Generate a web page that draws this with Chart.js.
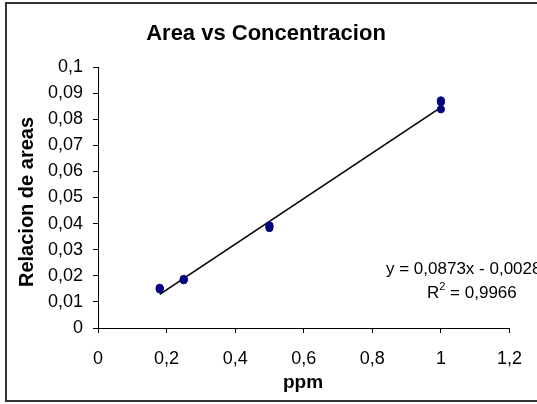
<!DOCTYPE html>
<html>
<head>
<meta charset="utf-8">
<title>Area vs Concentracion</title>
<script src="https://cdn.jsdelivr.net/npm/chart.js@4/dist/chart.umd.min.js"></script>
<style>
  html, body { margin: 0; padding: 0; background: #fff; }
  canvas { display: block; }
</style>
</head>
<body>
<canvas id="c" width="537" height="404"></canvas>
<script>
// Calibration data: concentration (ppm) vs area ratio, three replicates per level
const ppm = [0.18, 0.18, 0.18, 0.25, 0.25, 0.25, 0.5, 0.5, 0.5, 1.0, 1.0, 1.0];
const areaRatio = [0.0148, 0.0152, 0.0154, 0.0183, 0.0186, 0.0188, 0.0383, 0.0388, 0.0393, 0.0838, 0.0865, 0.0872];

// Linear fit shown on the chart
const slope = 0.0873;
const intercept = -0.0028;
const rSquared = 0.9966;
const fitRange = [0.18, 1.0];

// Axis ticks
const xTicks = [0, 0.2, 0.4, 0.6, 0.8, 1, 1.2];
const xTickLabels = ['0', '0,2', '0,4', '0,6', '0,8', '1', '1,2'];
const yTicks = [0, 0.01, 0.02, 0.03, 0.04, 0.05, 0.06, 0.07, 0.08, 0.09, 0.1];
const yTickLabels = ['0', '0,01', '0,02', '0,03', '0,04', '0,05', '0,06', '0,07', '0,08', '0,09', '0,1'];

const FONT = '"Liberation Sans", Arial, sans-serif';
const fmt = (n, d) => n.toFixed(d).replace('.', ',');

const points = ppm.map((x, i) => ({ x: x, y: areaRatio[i] }));
const fitLine = fitRange.map(x => ({ x: x, y: slope * x + intercept }));

// Frame, title, axis titles and the fit equation
const decorations = {
  id: 'decorations',
  afterDraw(chart) {
    const ctx = chart.ctx;
    ctx.save();
    ctx.strokeStyle = '#333';
    ctx.lineWidth = 2;
    ctx.strokeRect(6, 3, 540, 398);

    ctx.fillStyle = '#000';
    ctx.textAlign = 'center';
    ctx.textBaseline = 'middle';
    ctx.font = 'bold 22px ' + FONT;
    ctx.fillText('Area vs Concentracion', 266, 34);

    ctx.textBaseline = 'alphabetic';
    ctx.font = 'bold 19px ' + FONT;
    ctx.fillText('ppm', 303, 388);

    ctx.save();
    ctx.translate(33, 202);
    ctx.rotate(-Math.PI / 2);
    ctx.font = 'bold 20px ' + FONT;
    ctx.fillText('Relacion de areas', 0, 0);
    ctx.restore();

    ctx.font = '17px ' + FONT;
    ctx.textAlign = 'left';
    const sign = intercept < 0 ? ' - ' : ' + ';
    ctx.fillText('y = ' + fmt(slope, 4) + 'x' + sign + fmt(Math.abs(intercept), 4), 386, 274);
    const rx = 427, ry = 298;
    ctx.fillText('R', rx, ry);
    const rw = ctx.measureText('R').width;
    ctx.font = '11px ' + FONT;
    ctx.fillText('2', rx + rw, ry - 8);
    const sw = ctx.measureText('2').width;
    ctx.font = '17px ' + FONT;
    ctx.fillText(' = ' + fmt(rSquared, 4), rx + rw + sw, ry);
    ctx.restore();
  }
};

new Chart(document.getElementById('c'), {
  type: 'scatter',
  data: {
    datasets: [
      {
        label: 'Relacion de areas',
        data: points,
        backgroundColor: '#000080',
        borderColor: '#000080',
        pointRadius: 3.6,
        pointStyle: 'circle',
        order: 1
      },
      {
        label: 'Ajuste lineal',
        type: 'line',
        data: fitLine,
        borderColor: '#000',
        borderWidth: 1.6,
        pointRadius: 0,
        fill: false,
        order: 2
      }
    ]
  },
  plugins: [decorations],
  options: {
    responsive: false,
    animation: false,
    events: [],
    layout: { padding: { top: 67, right: 26, bottom: 0, left: 0 } },
    plugins: {
      legend: { display: false },
      title: { display: false },
      tooltip: { enabled: false }
    },
    scales: {
      x: {
        type: 'linear',
        min: 0,
        max: 1.2,
        afterBuildTicks: s => { s.ticks = xTicks.map(v => ({ value: v })); },
        afterFit: s => { s.height = 404 - 328; },
        ticks: {
          autoSkip: false,
          maxRotation: 0,
          padding: 15,
          color: '#000',
          font: { family: FONT, size: 18 },
          callback: (v, i) => xTickLabels[i]
        },
        grid: { drawOnChartArea: false, drawTicks: true, tickLength: 5, color: '#000' },
        border: { color: '#000', width: 1 }
      },
      y: {
        type: 'linear',
        min: 0,
        max: 0.1,
        afterBuildTicks: s => { s.ticks = yTicks.map(v => ({ value: v })); },
        afterFit: s => { s.width = 98; },
        ticks: {
          autoSkip: false,
          padding: 10,
          color: '#000',
          font: { family: FONT, size: 18 },
          callback: (v, i) => yTickLabels[i]
        },
        grid: { drawOnChartArea: false, drawTicks: true, tickLength: 5, color: '#000' },
        border: { color: '#000', width: 1 }
      }
    }
  }
});
</script>
</body>
</html>
